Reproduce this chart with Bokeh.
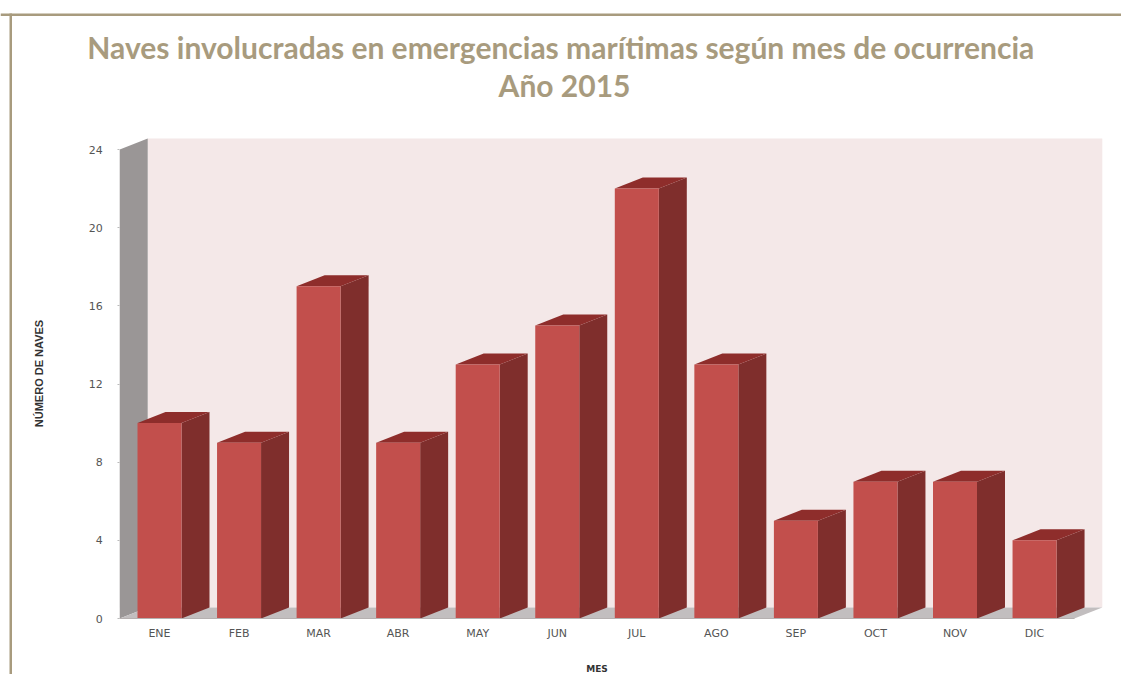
from bokeh.plotting import figure
from bokeh.models import FixedTicker, Label, BoxAnnotation
from bokeh.embed import file_html
from bokeh.resources import INLINE

months = ["ENE", "FEB", "MAR", "ABR", "MAY", "JUN", "JUL", "AGO", "SEP", "OCT", "NOV", "DIC"]
naves = [10, 9, 17, 9, 13, 15, 22, 13, 5, 7, 7, 4]
y_ticks = [0, 4, 8, 12, 16, 20, 24]
title_1 = "Naves involucradas en emergencias  marítimas según mes de ocurrencia"
title_2 = "Año 2015"
x_title = "MES"
y_title = "NÚMERO DE NAVES"

W, H = 1121, 674
PX_X, PX_Y = 79.55, 19.54     # pixels per category / per vessel
X0, Y0 = 159, 618             # canvas pixel of category 0 / value 0
DX, DY = 28 / PX_X, 11 / PX_Y # 3-D depth in data units
HALF = 22 / PX_X              # half width of bar front
GOLD = "#A89B7E"

def ux(px):
    return (px - X0) / PX_X

def uy(py):
    return (Y0 - py) / PX_Y

p = figure(width=W, height=H, output_backend="svg", toolbar_location=None,
           x_range=(ux(0), ux(W)), y_range=(uy(H), uy(0)),
           min_border=0, outline_line_color=None, background_fill_color="white",
           border_fill_color="white")
p.grid.visible = False

n = len(months)
L, R, TOP = -0.5, n - 0.5, max(y_ticks)

# back wall, side wall, floor
p.quad(left=L + DX, right=R + DX, bottom=DY, top=TOP + DY, fill_color="#F4E8E8", line_color=None)
p.patch([L, L + DX, L + DX, L], [TOP, TOP + DY, DY, 0], fill_color="#9A9696", line_color=None)
p.patch([L, R, R + DX, L + DX], [0, 0, DY, DY], fill_color="#C2BEBF", line_color=None)

# bars
side_x, side_y, top_x, top_y = [], [], [], []
for i, v in enumerate(naves):
    a, b = i - HALF, i + HALF
    side_x.append([b, b + DX, b + DX, b])
    side_y.append([0, DY, v + DY, v])
    top_x.append([a, b, b + DX, a + DX])
    top_y.append([v, v, v + DY, v + DY])
p.patches(side_x, side_y, fill_color="#7F2E2C", line_color=None)
p.patches(top_x, top_y, fill_color="#8E2D2B", line_color=None)
p.vbar(x=list(range(n)), top=naves, bottom=0, width=2 * HALF, fill_color="#C24F4C", line_color=None)

# axes
xa = p.xaxis[0]
xa.fixed_location = 0
xa.bounds = (L, R)
xa.ticker = FixedTicker(ticks=list(range(n)))
xa.major_label_overrides = {i: m for i, m in enumerate(months)}
xa.major_tick_line_color = None
xa.minor_tick_line_color = None
xa.axis_line_color = "#B5B0B0"
xa.major_label_standoff = 2
xa.major_label_text_font = "DejaVu Sans"
xa.major_label_text_font_size = "11px"
xa.major_label_text_color = "#555555"
xa.axis_label = x_title
xa.axis_label_standoff = 21
xa.axis_label_text_font = "DejaVu Sans"
xa.axis_label_text_font_size = "9px"
xa.axis_label_text_font_style = "bold"
xa.axis_label_text_color = "#333333"

ya = p.yaxis[0]
ya.fixed_location = L
ya.bounds = (0, TOP)
ya.ticker = FixedTicker(ticks=y_ticks)
ya.major_tick_in = 0
ya.major_tick_out = 2
ya.major_tick_line_color = "#BBBBBB"
ya.minor_tick_line_color = None
ya.axis_line_color = None
ya.major_label_standoff = 15
ya.major_label_text_font = "DejaVu Sans"
ya.major_label_text_font_size = "11px"
ya.major_label_text_color = "#555555"

p.add_layout(Label(x=ux(38), y=uy(373), text=y_title, angle=90, angle_units="deg",
                   text_align="center", text_baseline="middle",
                   text_font="Liberation Sans", text_font_size="11px",
                   text_font_style="bold", text_color="#333333"))

# frame lines
p.add_layout(BoxAnnotation(left=ux(0), right=ux(W), top=uy(13), bottom=uy(15.5),
                           fill_color=GOLD, fill_alpha=1, line_color=None))
p.add_layout(BoxAnnotation(left=ux(9), right=ux(11.5), top=uy(13), bottom=uy(H),
                           fill_color=GOLD, fill_alpha=1, line_color=None))

# title
for txt, py in ((title_1, 46), (title_2, 84)):
    p.add_layout(Label(x=ux(564), y=uy(py), text=txt, text_align="center", text_baseline="middle",
                       text_font="Lato", text_font_size="30px", text_font_style="bold",
                       text_color=GOLD))

open("out.html", "w").write(file_html(p, INLINE))
